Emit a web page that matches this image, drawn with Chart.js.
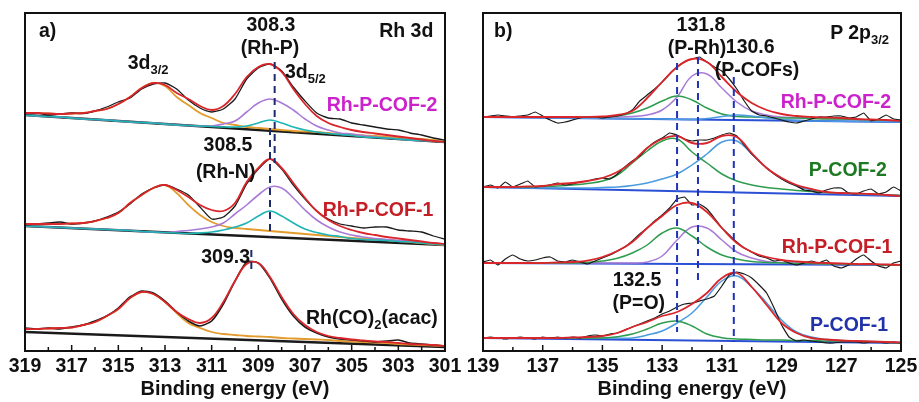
<!DOCTYPE html>
<html>
<head>
<meta charset="utf-8">
<script src="https://cdn.jsdelivr.net/npm/chart.js@4.4.1/dist/chart.umd.min.js"></script>
<style>
  body { margin: 0; background: #fff; width: 919px; height: 402px; overflow: hidden; position: relative;
         font-family: "Liberation Sans", Arial, sans-serif; }
  canvas { position: absolute; top: 0; }
  .lbl { position: absolute; font-weight: bold; font-size: 19.5px; line-height: 1; white-space: nowrap; color: #111; }
  .lbl sub { font-size: 13px; vertical-align: -5px; line-height: 0; }
</style>
</head>
<body>
<canvas id="chartA" width="462" height="402" style="left:0px"></canvas>
<canvas id="chartB" width="459" height="402" style="left:460px"></canvas>
<script>
// --- PANEL A : Rh 3d ---
const energyA = [319,318.5,318,317.5,317,316.5,316,315.5,315,314.5,314,313.5,313,312.5,312,311.5,311,310.5,310,
  309.5,309,308.5,308,307.5,307,306.5,306,305.5,305,304.5,304,303.5,303,302.5,302,301.5,301];

// Rh-P-COF-2 (top)
const rawTop = [237,238,236,237,238,237.5,240,244,249,253,262,267,268,262,251,243,239,242,252,272,283,287,280,264,250,238,233,232,228,226,224,222,221,218,216,213,211];
const envTop = [238,238,237.5,237,237.5,238,240,242,247,254,263,268,266,258,252,245,241,245,257,274,284,287,279,262,247,235,228,224,221,219,217.5,216,214.5,213,211.5,210,209];
const d32Top = [238,238,237.5,237,237.5,238,240,242,247,254,263,268,265,254,246,238,233,228,226,224,223,222,221,220,219.5,219,218,217,216.5,215.5,215,214,213.5,212.5,212,211,210];
const rhPTop = [236,235,234.5,234,233,232,231.5,231,230,229,228.5,228,227,226,225.5,225,225,227,230,239,248,252,248,241,232,225,221,218,217,215.5,214,213,212,211,210.5,210,209];
const rhNTop = [236,235,234.5,234,233,232,231.5,231,230,229,228.5,228,227,226,225.5,225,224.5,224,224,225,228,231,228,224,221,219,217.5,216.5,215.5,214,213.5,213,212,211,210.5,210,209];
const baseTop = [236, 209];

// Rh-P-COF-1 (middle)
const rawMid = [126,127,128,129,127,128,130,134,139,147,157,163,166,162,156,144,132,134,145,167,182,192,182,166,152,140,132,127,125,123,124,124,121,120,119,115,112];
const envMid = [127,127,127,127,127.5,128,130,133,138,148,156,163,166,161,154,146,141,140,148,169,183,192,183,168,153,140,131,125,121,118,116,114,112.5,111,109.5,108,107];
const d32Mid = [127,127,127,127,127.5,128,130,133,138,148,156,163,166,158,146,136,129,125,123,122,121,120,119,118,117,116,115,114,113,112.5,112,111,110,109,108,107,106];
const rhPMid = [125,124.5,124,123.5,123,122.5,122,121.5,121,120.5,119.5,119,118.5,119.5,120.5,122,124,128,137,146,156,164,163,153,141,131,124,119,116,114,112.5,111.5,110.5,110,109,108,107];
const rhNMid = [125,124.5,124,123.5,123,122.5,122,121.5,121,120.5,119.5,119,118.5,118,117.5,118,119,121,124,128,135,140,135,128,122,118.5,116,114.5,112.5,111.5,111,110.5,109.5,109,108,107,106];
const baseMid = [125, 106];

// Rh(CO)2(acac) (bottom)
const rawBot = [23,22,23,22,24,26,30,35,43,54,60,58,50,39,30,25,30,47,70,89,88,73,52,35,24,18,14,12,11,10,9,10,11,8,7,6,5];
const envBot = [22,22,22.5,23,23.5,26,29,35,42,53,59,57,49,39,32,28,33,49,70,87,88,74,54,37,26,19,15,13,11.5,10.5,9.5,9,8,7,6.5,6,5];
const d32Bot = [22,22,22.5,23,23.5,26,29,35,42,53,59,57,49,38,28,23,19,17,16,15,14.5,14,13,12.5,12,11.5,11,10,9.5,9,8.5,8,7,6.5,6,5.5,5];
const baseBot = [19, 4];

// dashed markers (eV) and their vertical extent
const markA = [308.3, 308.5, 309.3];
const markTopA = [289, 223, 101];
const markBotA = [188, 114, 79];

// --- PANEL B : P 2p3/2 ---
const energyB = [139,138.5,138,137.5,137,136.5,136,135.5,135,134.5,134,133.5,133,132.5,132,131.5,131,130.5,130,129.5,129,128.5,128,127.5,127,126.5,126,125.5,125];
const energyBraw = [139,138.75,138.5,138.25,138,137.75,137.5,137.25,137,136.75,136.5,136.25,136,135.75,135.5,135.25,135,134.75,134.5,134.25,
  134,133.75,133.5,133.25,133,132.75,132.5,132.25,132,131.75,131.5,131.25,131,130.75,130.5,130.25,130,129.75,129.5,129.25,
  129,128.75,128.5,128.25,128,127.75,127.5,127.25,127,126.75,126.5,126.25,126,125.75,125.5,125.25,125];

// Rh-P-COF-2
const rawB1 = [234,235,236,235,234,235,236,239,235,231,228,229,231,233,234,234,233,234,235,237,241,250,256,262,269,277,284,289,292,294,289,284,280,272,262,250,240,236,235,233,231,229,228,230,232,234,234,235,235,233,234,238,230,232,236,232,231];
const envB1 = [234,234,234,234,234,234,234,234,234.5,236,240,253,269,284,292,289,274,259,248,241,237,235,234,233.5,233,232,231.5,231,230];
const pRhB1 = [234,234,234,234,234,234,234,234,234,234,234.5,236,241,254,275,277,263,249,240,236,234,233.5,233,232.5,232,231.5,231,230.5,230];
const pOB1 = [234,234,234,234,234,234,234,234,234,235,238,243,250,255,251,243,237,234.5,234,233.5,233,233,232.5,232,232,231.5,231,230.5,230];
const pCofB1 = [234,233.8,233.6,233.5,233.3,233.1,232.9,232.8,232.6,232.4,232.2,232,231.9,231.7,231.5,232.5,234.5,236,235,233,231.5,230.8,230.1,229.9,229.7,229.5,229.4,229.2,229];
const baseB1 = [234, 229];

// P-COF-2
const rawB2 = [164,166,163,169,164,167,170,164,165,166,168,166,167,169,170,172,173,172,177,184,190,195,203,209,213,218,216,212,210,211,211,213,216,218,215,206,197,190,183,177,172,168,165,161,160,158,161,163,163,158,157,160,162,157,159,164,160];
const envB2 = [164,164,164,164.5,165,167,168,170,173,179,189,203,212,215,208,208,215,214,198,183,173,166,162,159,158,157.5,157,156,155];
const pOB2 = [164,164,164,164,164.5,165,166,167.5,170,176,188,200,210,212,199,188,177,170,166,163.5,162,160.5,159.5,158.5,158,157.5,157,156,155.5];
const pCofB2 = [164,163.5,163.5,163,163,163,163,163,163.5,164,165.5,168,172,177,186,197,209,210,197,183,173,165,161,158.5,157.5,157,156.5,156,155.5];
const baseB2 = [164, 155];

// Rh-P-COF-1
const rawB3 = [89,91,86,92,96,92,90,91,93,94,90,89,91,89,87,90,93,96,100,104,110,117,123,130,136,143,152,154,146,147,142,133,123,116,109,103,99,95,93,90,91,88,86,88,90,88,91,85,83,86,92,96,90,85,83,88,90];
const envB3 = [88,88,88,88,88,88.5,89,90.3,94,100,109,123,135,146,148,139,123,108,99,94,91,89.5,88.5,88,87.5,87,87,86.5,86];
const pOB3 = [88,88,88,88,88,88,88,88.5,90,92.7,98,106,118,123,115,104,96,92,89.5,88.5,88,87.5,87.5,87,87,86.5,86.5,86,86];
const pRhB3 = [88,88,88,88,88,88,88,88,88,88,88,89,95,111,124,123,111,99,93,89.5,88.5,88,87.5,87,87,86.5,86.5,86,86];
const baseB3 = [88, 86];

// P-COF-1
const rawB4 = [13,14,13,12,13,14,13,12,14,13,14,13,14,13,15,16,15,17,18,21,24,27,30,33,37,40,44,47,48,50,52,55,65,76,79,77,73,66,58,43,26,14,10,11,10,9,8,8,9,9,9,8,9,9,8,9,8];
const envB4 = [13,13,13,13,13,13,13.5,14,15,18,24,29,35,39,47,58,73,78,64,46,28,18,13,11.5,10.5,10,9.5,9,8.5];
const pOB4 = [13,13,13,13,13,13,13,13,13,14.3,17,22,28,30,25,17,13.3,12,11.5,11,11,10.5,10.5,10,10,9.5,9,8.5,8];
const pCofB4 = [13,13,13,13,13,13,13,13,13,13,13,16,20,28,38,54,70,75,64,48,31,19,14,11.5,10.5,10,9.5,9,8.5];
const baseB4 = [13, 8];

const markB = [132.5, 131.8, 130.6];
const markTopB = [288, 294, 274];
const markBotB = [19, 68, 9];

// cores
const RAW = '#1a1a1a', ENV = '#d9262b', ORANGE = '#e39b2d', PURPLE = '#a97bd6', CYAN = '#1fb5b5';
const GREEN = '#2e9c4e', BLUE = '#4a9be0', BASE_B = '#2b50d6';

Chart.defaults.font.family = '"Liberation Sans", Arial, sans-serif';

function line(xs, ys, color, width, order, extra) {
  return Object.assign({
    data: xs.map((x, i) => ({ x: x, y: ys[i] })),
    borderColor: color, borderWidth: width, pointRadius: 0,
    tension: 0.4, fill: false, order: order
  }, extra || {});
}

function marks(es, tops, bots, color) {
  return es.map((e, i) => line([e, e], [tops[i], bots[i]], color, 2, 0, { tension: 0, borderDash: [7, 5] }));
}

const xEndsA = [319, 301];
const xEndsB = [139, 125];

const datasetsA = [
  line(xEndsA, baseTop, RAW, 2.5, 6, { tension: 0 }),
  line(energyA, rhNTop, CYAN, 1.6, 4),
  line(energyA, rhPTop, PURPLE, 1.6, 4),
  line(energyA, d32Top, ORANGE, 1.8, 4),
  line(energyA, rawTop, RAW, 1.3, 2, { tension: 0.2 }),
  line(energyA, envTop, ENV, 1.8, 1),

  line(xEndsA, baseMid, RAW, 2.5, 6, { tension: 0 }),
  line(energyA, rhNMid, CYAN, 1.6, 4),
  line(energyA, rhPMid, PURPLE, 1.6, 4),
  line(energyA, d32Mid, ORANGE, 1.8, 4),
  line(energyA, rawMid, RAW, 1.3, 2, { tension: 0.2 }),
  line(energyA, envMid, ENV, 1.8, 1),

  line(xEndsA, baseBot, RAW, 2.5, 6, { tension: 0 }),
  line(energyA, d32Bot, ORANGE, 1.8, 4),
  line(energyA, rawBot, RAW, 1.6, 2, { tension: 0.2 }),
  line(energyA, envBot, ENV, 1.8, 1)
].concat(marks(markA, markTopA, markBotA, '#1c2a6e'));

const datasetsB = [
  line(xEndsB, baseB1, BASE_B, 2, 6, { tension: 0 }),
  line(energyB, pCofB1, BLUE, 1.5, 4),
  line(energyB, pOB1, GREEN, 1.5, 4),
  line(energyB, pRhB1, PURPLE, 1.5, 4),
  line(energyBraw, rawB1, RAW, 1.2, 2, { tension: 0.1 }),
  line(energyB, envB1, ENV, 1.8, 1),

  line(xEndsB, baseB2, BASE_B, 2, 6, { tension: 0 }),
  line(energyB, pOB2, GREEN, 1.5, 4),
  line(energyB, pCofB2, BLUE, 1.5, 4),
  line(energyBraw, rawB2, RAW, 1.2, 2, { tension: 0.1 }),
  line(energyB, envB2, ENV, 1.8, 1),

  line(xEndsB, baseB3, BASE_B, 2, 6, { tension: 0 }),
  line(energyB, pOB3, GREEN, 1.5, 4),
  line(energyB, pRhB3, PURPLE, 1.5, 4),
  line(energyBraw, rawB3, RAW, 1.2, 2, { tension: 0.1 }),
  line(energyB, envB3, ENV, 1.8, 1),

  line(xEndsB, baseB4, BASE_B, 2, 6, { tension: 0 }),
  line(energyB, pOB4, GREEN, 1.5, 4),
  line(energyB, pCofB4, BLUE, 1.5, 4),
  line(energyBraw, rawB4, RAW, 1.2, 2, { tension: 0.1 }),
  line(energyB, envB4, ENV, 1.8, 1)
].concat(marks(markB, markTopB, markBotB, '#1f33b8'));

// moldura + ticks para dentro
const frame = {
  id: 'frame',
  afterDraw(chart) {
    const ctx = chart.ctx, a = chart.chartArea, x = chart.scales.x;
    ctx.save();
    ctx.strokeStyle = '#111';
    ctx.lineWidth = 2;
    ctx.strokeRect(a.left, a.top, a.right - a.left, a.bottom - a.top);
    ctx.lineWidth = 1.5;
    x.ticks.forEach(t => {
      const px = x.getPixelForValue(t.value);
      const len = Math.abs(Math.round(t.value)) % 2 === 1 ? 6 : 4;
      ctx.beginPath();
      ctx.moveTo(px, a.bottom);
      ctx.lineTo(px, a.bottom - len);
      ctx.stroke();
    });
    ctx.restore();
  }
};

function makeChart(id, xmin, xmax, datasets, padL, padR) {
  return new Chart(document.getElementById(id), {
    type: 'line',
    data: { datasets: datasets },
    options: {
      responsive: false,
      animation: false,
      events: [],
      layout: { padding: { left: padL, right: padR, top: 13, bottom: 0 } },
      plugins: { legend: { display: false }, tooltip: { enabled: false } },
      scales: {
        x: {
          type: 'linear', reverse: true, min: xmin, max: xmax,
          grid: { display: false }, border: { display: false },
          ticks: {
            stepSize: 1, autoSkip: false, maxRotation: 0, padding: -4, color: '#111',
            font: { size: 19.5, weight: 'bold' },
            callback: v => Math.abs(Math.round(v)) % 2 === 1 ? String(Math.round(v)) : ''
          },
          title: {
            display: true, text: 'Binding energy (eV)', color: '#111',
            font: { size: 20, weight: 'bold' }, padding: { top: 0, bottom: 1 }
          },
          afterFit: s => { s.height = 51; }
        },
        y: { display: false, min: 0, max: 338 }
      }
    },
    plugins: [frame]
  });
}

const chartA = makeChart('chartA', 301, 319, datasetsA, 25, 17);
const chartB = makeChart('chartB', 125, 139, datasetsB, 23, 18);

// textos sobre os gráficos (posicionados pelas escalas)
const labelsA = [
  { t: 'a)', e: 318.4, i: 320, al: 'left' },
  { t: 'Rh 3d', e: 301.5, i: 320, al: 'right' },
  { t: '308.3', e: 308.46, i: 326 },
  { t: '(Rh-P)', e: 308.5, i: 303 },
  { t: '3d<sub>3/2</sub>', e: 314.6, i: 288, al: 'left' },
  { t: '3d<sub>5/2</sub>', e: 307.86, i: 279, al: 'left' },
  { t: 'Rh-P-COF-2', e: 303.7, i: 246, c: '#cc22cc' },
  { t: '308.5', e: 310.3, i: 206 },
  { t: '(Rh-N)', e: 310.4, i: 179 },
  { t: 'Rh-P-COF-1', e: 303.87, i: 141, c: '#c41e26' },
  { t: '309.3', e: 310.4, i: 94 },
  { t: 'Rh(CO)<sub>2</sub>(acac)', e: 304.13, i: 33 }
];
const labelsB = [
  { t: 'b)', e: 138.63, i: 320, al: 'left' },
  { t: 'P 2p<sub>3/2</sub>', e: 125.4, i: 318, al: 'right' },
  { t: '131.8', e: 131.7, i: 326 },
  { t: '(P-Rh)', e: 131.83, i: 303 },
  { t: '130.6', e: 130.05, i: 304 },
  { t: '(P-COFs)', e: 129.82, i: 281 },
  { t: 'Rh-P-COF-2', e: 127.18, i: 249, c: '#cc22cc' },
  { t: 'P-COF-2', e: 126.78, i: 181, c: '#1d7a22' },
  { t: 'Rh-P-COF-1', e: 127.14, i: 104, c: '#c41e26' },
  { t: '132.5', e: 133.84, i: 71 },
  { t: '(P=O)', e: 133.78, i: 48 },
  { t: 'P-COF-1', e: 126.74, i: 26, c: '#2233aa' }
];

function placeLabels(chart, left, list) {
  const x = chart.scales.x, y = chart.scales.y;
  list.forEach(l => {
    const d = document.createElement('div');
    d.className = 'lbl';
    d.innerHTML = l.t;
    if (l.c) d.style.color = l.c;
    d.style.left = (left + x.getPixelForValue(l.e)) + 'px';
    d.style.top = y.getPixelForValue(l.i) + 'px';
    const tx = l.al === 'left' ? '0' : (l.al === 'right' ? '-100%' : '-50%');
    d.style.transform = 'translate(' + tx + ', -50%)';
    document.body.appendChild(d);
  });
}

placeLabels(chartA, 0, labelsA);
placeLabels(chartB, 460, labelsB);
</script>
</body>
</html>
